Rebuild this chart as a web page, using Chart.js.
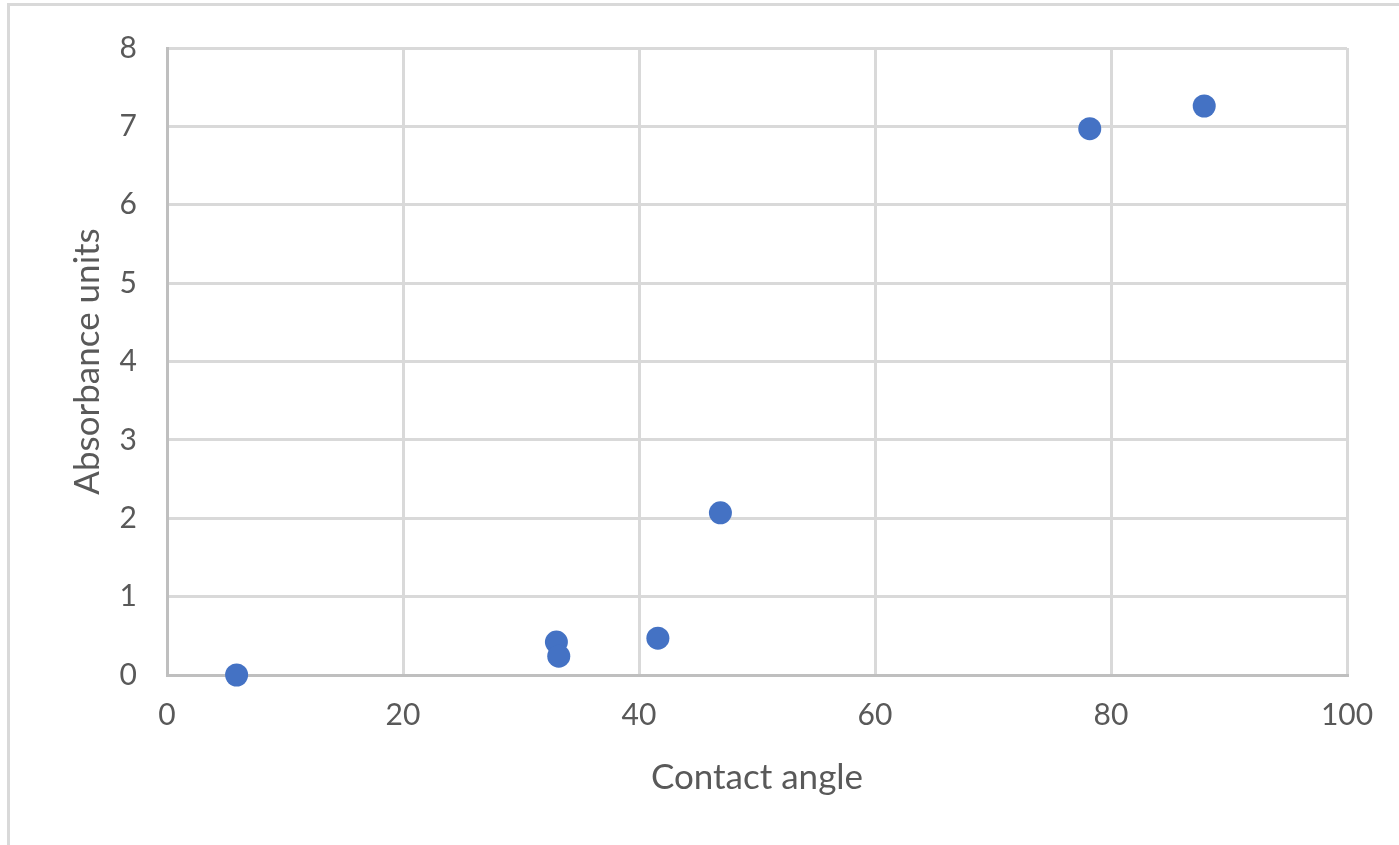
<!DOCTYPE html>
<html>
<head>
<meta charset="utf-8">
<script src="https://cdn.jsdelivr.net/npm/chart.js@4"></script>
<style>
  html, body { margin: 0; padding: 0; background: #ffffff; overflow: hidden; }
  #wrap { position: relative; width: 1399px; height: 845px; }
  #frame { position: absolute; left: 7px; top: 3px; width: 1400px; height: 850px;
           border-left: 3px solid #d9d9d9; border-top: 3px solid #d9d9d9; pointer-events: none; }
  canvas { position: absolute; left: 0; top: 0; }
</style>
</head>
<body>
<div id="wrap">
  <canvas id="chart" width="1399" height="845"></canvas>
  <div id="frame"></div>
</div>
<script>
// Measured samples: contact angle (degrees) vs absorbance
const contactAngle = [5.9, 33.0, 33.2, 41.6, 46.9, 78.2, 87.9];
const absorbance   = [0.0, 0.42, 0.24, 0.47, 2.07, 6.97, 7.26];

const xTitle = 'Contact angle';
const yTitle = 'Absorbance units';

const points = contactAngle.map((x, i) => ({ x: x, y: absorbance[i] }));

const textColor = '#595959';
const gridColor = '#d9d9d9';
const axisColor = '#bfbfbf';
const fontFamily = 'Lato, "Open Sans", sans-serif';

new Chart(document.getElementById('chart'), {
  type: 'scatter',
  data: {
    datasets: [{
      data: points,
      backgroundColor: '#4472c4',
      borderColor: '#4472c4',
      pointRadius: 11.5,
      pointHoverRadius: 11.5,
      borderWidth: 0,
      clip: false
    }]
  },
  options: {
    responsive: false,
    animation: false,
    devicePixelRatio: 1,
    layout: { padding: { top: 48, right: 52, bottom: 0, left: 0 } },
    plugins: { legend: { display: false }, tooltip: { enabled: false } },
    scales: {
      x: {
        type: 'linear',
        min: 0, max: 100,
        ticks: { stepSize: 20, color: textColor, padding: 22, font: { family: fontFamily, size: 30 } },
        grid: { color: gridColor, lineWidth: 3, drawTicks: false },
        border: { color: axisColor, width: 3 },
        title: { display: true, text: xTitle, color: textColor, font: { family: fontFamily, size: 35 }, padding: { top: 46, bottom: 46 } },
        afterFit: (s) => { s.height = 170; }
      },
      y: {
        type: 'linear',
        min: 0, max: 8,
        ticks: { stepSize: 1, color: textColor, padding: 30, font: { family: fontFamily, size: 30 } },
        grid: { color: gridColor, lineWidth: 3, drawTicks: false },
        border: { color: axisColor, width: 3 },
        title: { display: true, text: yTitle, color: textColor, font: { family: fontFamily, size: 35 }, padding: { top: 67, bottom: 67 } },
        afterFit: (s) => { s.width = 167; }
      }
    }
  }
});
</script>
</body>
</html>
